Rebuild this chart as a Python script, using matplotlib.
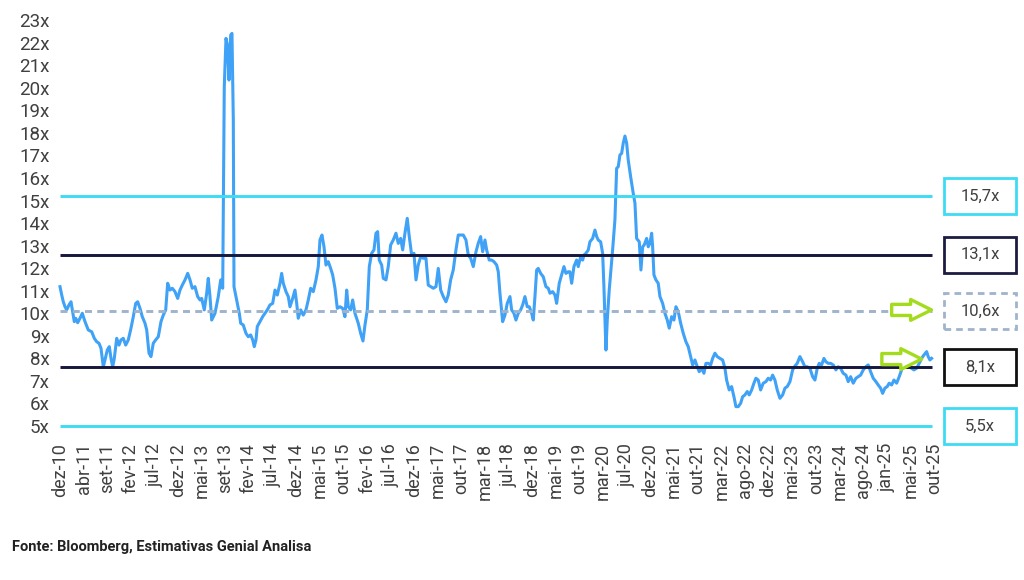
import numpy as np
import matplotlib
matplotlib.use("Agg")
import matplotlib.pyplot as plt
from matplotlib.patches import Rectangle
from matplotlib.transforms import blended_transform_factory

plt.rcParams['font.family'] = ['Roboto', 'DejaVu Sans']

# P/L (x) - eixo x em meses desde dez-10
meses = [
    0.0, 0.35, 0.67, 1.02, 1.36, 1.83, 2.24, 2.51, 2.91, 3.20, 3.60, 4.07, 4.54, 5.09, 5.76, 6.46,
    6.99, 7.47, 7.94, 8.35, 8.82, 9.16, 9.63, 10.04, 10.39, 10.73, 11.06, 11.55, 12.02, 12.42, 12.89,
    13.38, 13.91, 14.46, 14.93, 15.42, 15.82, 16.29, 16.76, 17.31, 17.66, 18.13, 18.53, 19.00, 19.49,
    20.02, 20.57, 21.04, 21.53, 21.93, 22.40, 22.87, 23.42, 23.97, 24.44, 24.91, 25.46, 26.01, 26.48,
    26.94, 27.49, 28.04, 28.51, 28.86, 29.39, 29.88, 30.20, 30.55, 30.90, 31.57, 32.24, 32.73, 33.14,
    33.46, 33.81, 34.11, 34.42, 34.77, 35.03, 35.30, 35.44, 35.99, 36.52, 36.80, 37.33, 37.88, 38.35,
    38.84, 39.25, 39.57, 39.92, 40.18, 40.73, 41.28, 41.75, 42.22, 42.77, 43.32, 43.79, 44.26, 44.81,
    45.15, 45.48, 46.03, 46.50, 46.84, 47.39, 47.86, 48.21, 48.53, 49.02, 49.55, 50.10, 50.57, 51.06,
    51.59, 52.14, 52.61, 52.95, 53.36, 53.77, 54.18, 54.64, 55.13, 55.54, 56.01, 56.48, 57.03, 57.58,
    58.04, 58.39, 58.72, 59.21, 59.61, 60.08, 60.75, 61.24, 61.71, 62.12, 62.59, 63.00, 63.48, 63.95,
    64.36, 64.70, 65.03, 65.52, 65.85, 66.40, 66.86, 67.35, 67.88, 68.43, 68.90, 69.39, 69.80, 70.26,
    70.73, 71.14, 71.63, 72.10, 72.51, 72.97, 73.46, 73.99, 74.54, 75.01, 75.50, 76.03, 76.58, 77.05,
    77.54, 78.07, 78.62, 79.08, 79.57, 80.10, 80.65, 81.12, 81.61, 82.14, 82.69, 83.16, 83.65, 84.18,
    84.73, 85.19, 85.68, 86.09, 86.56, 86.90, 87.43, 87.92, 88.39, 88.94, 89.27, 89.61, 90.16, 90.63,
    91.10, 91.65, 91.99, 92.46, 92.87, 93.34, 93.83, 94.24, 94.70, 95.17, 95.58, 96.07, 96.40, 96.74,
    97.09, 97.41, 97.90, 98.43, 98.98, 99.45, 99.80, 100.35, 100.81, 101.16, 101.69, 102.18, 102.65,
    103.05, 103.52, 103.87, 104.22, 104.68, 105.23, 105.56, 106.05, 106.46, 106.72, 107.13, 107.60,
    107.94, 108.49, 108.96, 109.31, 109.63, 110.12, 110.53, 110.79, 111.20, 111.47, 111.87, 112.22,
    112.56, 113.03, 113.38, 113.71, 114.05, 114.40, 114.72, 115.07, 115.42, 115.74, 116.23, 116.76,
    117.11, 117.45, 117.99, 118.33, 118.68, 119.00, 119.49, 119.82, 120.16, 120.51, 120.71, 120.98,
    121.38, 121.85, 122.20, 122.75, 123.22, 123.69, 124.09, 124.58, 125.05, 125.46, 125.93, 126.42,
    126.95, 127.49, 127.96, 128.45, 128.86, 129.33, 129.80, 130.20, 130.69, 131.16, 131.57, 132.04,
    132.53, 132.93, 133.40, 133.87, 134.42, 134.97, 135.44, 135.78, 136.31, 136.80, 137.27, 137.68,
    138.15, 138.64, 139.04, 139.51, 139.98, 140.39, 140.88, 141.34, 141.75, 142.22, 142.71, 143.24,
    143.79, 144.26, 144.74, 145.15, 145.62, 146.09, 146.64, 147.19, 147.66, 148.13, 148.68, 149.23,
    149.69, 150.16, 150.71, 151.26, 151.73, 152.20, 152.75, 153.30, 153.77, 154.24, 154.64, 155.13,
    155.60, 156.01, 156.48, 156.97, 157.50, 158.04, 158.51, 159.00, 159.53, 160.08, 160.55, 161.04,
    161.57, 162.12, 162.59, 163.08, 163.61, 164.15, 164.62, 165.11, 165.64, 166.19, 166.66, 167.15,
    167.56, 168.02, 168.49, 168.90, 169.39, 169.86, 170.41, 170.94, 171.42, 171.89, 172.44, 172.97,
    173.46, 173.93, 174.48, 175.01, 175.50, 175.97, 176.52, 176.84, 177.19, 177.54,
]
pl = [
    11.68, 11.31, 11.01, 10.79, 10.65, 10.87, 11.01, 10.65, 10.13, 10.28, 10.08, 10.28, 10.50, 10.13, 9.76, 9.68,
    9.39, 9.24, 9.17, 8.95, 8.13, 8.43, 8.87, 9.02, 8.50, 8.13, 8.50, 9.39, 9.09, 9.32, 9.39,
    9.09, 9.32, 9.84, 10.35, 10.94, 11.01, 10.72, 10.35, 10.06, 9.76, 8.73, 8.58, 9.17, 9.32,
    9.46, 10.13, 10.42, 10.65, 11.83, 11.53, 11.61, 11.46, 11.16, 11.53, 11.75, 11.98, 12.27, 11.98,
    11.61, 11.68, 11.24, 11.09, 11.16, 10.65, 11.39, 12.05, 11.24, 10.20, 10.50, 11.24, 11.98, 11.61,
    20.54, 22.69, 22.39, 20.84, 22.84, 22.91, 19.07, 11.68, 11.09, 10.50, 10.06, 9.98, 9.61, 9.46,
    9.54, 9.32, 9.02, 9.32, 9.91, 10.13, 10.35, 10.50, 10.65, 10.87, 10.94, 11.53, 11.31, 11.83,
    12.27, 11.83, 11.46, 11.24, 10.79, 11.16, 11.53, 10.94, 10.28, 10.65, 10.42, 10.65, 11.09, 11.61,
    11.46, 11.98, 12.57, 13.75, 13.97, 13.45, 12.64, 12.79, 12.49, 12.20, 11.61, 10.72, 10.79, 10.72,
    10.35, 11.53, 10.79, 10.65, 11.09, 10.50, 10.06, 9.61, 9.27, 9.98, 10.65, 12.57, 13.16, 13.31,
    14.05, 14.12, 12.86, 12.64, 12.05, 11.98, 12.57, 13.53, 13.75, 14.05, 13.60, 13.82, 13.31, 14.05,
    14.71, 13.90, 13.08, 13.16, 11.98, 12.64, 13.01, 12.94, 12.94, 11.75, 11.68, 11.61, 11.68, 12.49,
    11.53, 11.24, 11.01, 11.31, 11.98, 12.42, 13.31, 13.97, 13.97, 13.97, 13.75, 13.08, 12.94, 12.57,
    13.23, 13.60, 13.90, 13.23, 13.75, 13.31, 12.86, 12.86, 12.79, 12.64, 12.34, 11.39, 10.13, 10.42,
    10.94, 11.24, 10.65, 10.50, 10.20, 10.50, 10.65, 10.87, 11.24, 10.79, 10.79, 10.50, 10.20, 11.24,
    12.42, 12.49, 12.27, 12.12, 11.68, 11.61, 11.39, 11.46, 11.31, 10.94, 11.83, 12.20, 12.57,
    12.27, 12.34, 12.34, 11.83, 12.57, 12.86, 12.57, 13.01, 12.86, 13.08, 13.16, 13.31,
    13.67, 13.82, 14.19, 13.90, 13.75, 13.67, 13.16, 11.68, 8.87, 10.20, 11.53, 12.42,
    13.31, 14.64, 16.93, 17.00, 17.52, 17.59, 18.04, 18.36, 18.04, 17.30, 16.56, 15.82,
    15.38, 13.82, 13.67, 12.42, 13.45, 13.53, 13.82, 13.45, 13.60, 14.05, 13.45, 12.20,
    11.98, 11.83, 11.24, 10.94, 10.50, 10.20, 9.84, 10.35, 10.20, 10.79, 10.57, 10.06,
    9.61, 9.24, 9.02, 8.58, 8.21, 8.43, 8.13, 7.91, 8.06, 7.84, 8.28, 8.28,
    8.21, 8.50, 8.73, 8.58, 8.50, 8.43, 8.06, 7.54, 7.10, 7.25, 6.80, 6.36,
    6.36, 6.51, 6.80, 6.88, 7.03, 6.88, 7.10, 7.40, 7.62, 7.54, 7.10, 7.40,
    7.47, 7.62, 7.54, 7.76, 7.54, 7.10, 6.73, 6.88, 7.18, 7.25, 7.47, 7.99,
    8.16, 8.28, 8.58, 8.35, 8.13, 8.13, 8.06, 7.69, 7.54, 8.06, 8.28, 8.21,
    8.50, 8.35, 8.28, 8.28, 8.21, 7.99, 8.13, 8.06, 7.84, 7.76, 7.47, 7.69,
    7.40, 7.62, 7.69, 7.76, 7.99, 8.13, 8.21, 7.91, 7.62, 7.47, 7.32, 7.18,
    6.95, 7.18, 7.25, 7.40, 7.32, 7.54, 7.40, 7.69, 7.99, 8.21, 8.28, 8.13,
    8.06, 7.99, 8.06, 8.28, 8.50, 8.65, 8.80, 8.58, 8.43, 8.50,
]

x_labels = ['dez-10', 'abr-11', 'set-11', 'fev-12', 'jul-12', 'dez-12', 'mai-13', 'set-13',
            'fev-14', 'jul-14', 'dez-14', 'mai-15', 'out-15', 'fev-16', 'jul-16', 'dez-16',
            'mai-17', 'out-17', 'mar-18', 'jul-18', 'dez-18', 'mai-19', 'out-19', 'mar-20',
            'jul-20', 'dez-20', 'mai-21', 'out-21', 'mar-22', 'ago-22', 'dez-22', 'mai-23',
            'out-23', 'mar-24', 'ago-24', 'jan-25', 'mai-25', 'out-25']
y_labels = list(range(5, 24))

# media e desvios
bandas = [15.7, 13.1, 10.6, 8.1, 5.5]
bandas_txt = ['15,7x', '13,1x', '10,6x', '8,1x', '5,5x']
bandas_cor = ['#3ddcf4', '#16163e', '#9fb3cb', '#16163e', '#3ddcf4']
caixa_cor = ['#3ddcf4', '#1c1c40', '#9fb3cb', '#111111', '#3ddcf4']
bandas_ls = ['-', '-', (0, (2.4, 1.8)), '-', '-']

fig = plt.figure(figsize=(10.24, 5.8), dpi=100)
ax = fig.add_axes([0.0538, 0.246, 0.863, 0.731])

ax.plot(meses, pl, color='#3fa2f6', lw=2.2, zorder=2)

for v, c, ls in zip(bandas, bandas_cor, bandas_ls):
    ax.hlines(v, meses[0], meses[-1], colors=c, lw=2.1, linestyles=ls, zorder=3)

ax.set_xlim(-1, 179)
ax.set_ylim(5.0, 23.8)

# rotulos do eixo y ficam meia unidade abaixo (como no original)
ax.set_yticks([k + 0.5 for k in y_labels])
ax.set_yticklabels([f'{k}x' for k in y_labels], fontsize=13.5, color='#404040')
ax.set_xticks(np.linspace(0, 178, len(x_labels)))
ax.set_xticklabels(x_labels, rotation=90, fontsize=13, color='#404040')
ax.tick_params(length=0, pad=4)
for s in ax.spines.values():
    s.set_visible(False)

# caixas com os valores a direita
trans = blended_transform_factory(fig.transFigure, ax.transData)
for v, t, c, ls in zip(bandas, bandas_txt, caixa_cor, bandas_ls):
    r = Rectangle((0.922, v - 0.8), 0.070, 1.6, transform=trans, fill=False,
                  ec=c, lw=2.0, ls=ls, clip_on=False)
    fig.add_artist(r)
    ax.text(0.957, v, t, transform=trans, ha='center', va='center',
            fontsize=12, color='#404040', clip_on=False)

# setas verdes
seta = dict(arrowstyle='simple,head_length=15,head_width=15,tail_width=8',
            mutation_scale=1, fc='white', ec='#a3dc1c', lw=2.4, shrinkA=0, shrinkB=0)
ax.annotate('', xy=(177.5, 10.65), xytext=(169.4, 10.65), arrowprops=seta, zorder=5)
ax.annotate('', xy=(175.5, 8.47), xytext=(167.4, 8.47), arrowprops=seta, zorder=5)

fig.text(0.012, 0.057, 'Fonte: Bloomberg, Estimativas Genial Analisa', fontsize=10.5,
         fontweight='semibold', color='#222222', va='center')

fig.savefig('out.png', dpi=100)
